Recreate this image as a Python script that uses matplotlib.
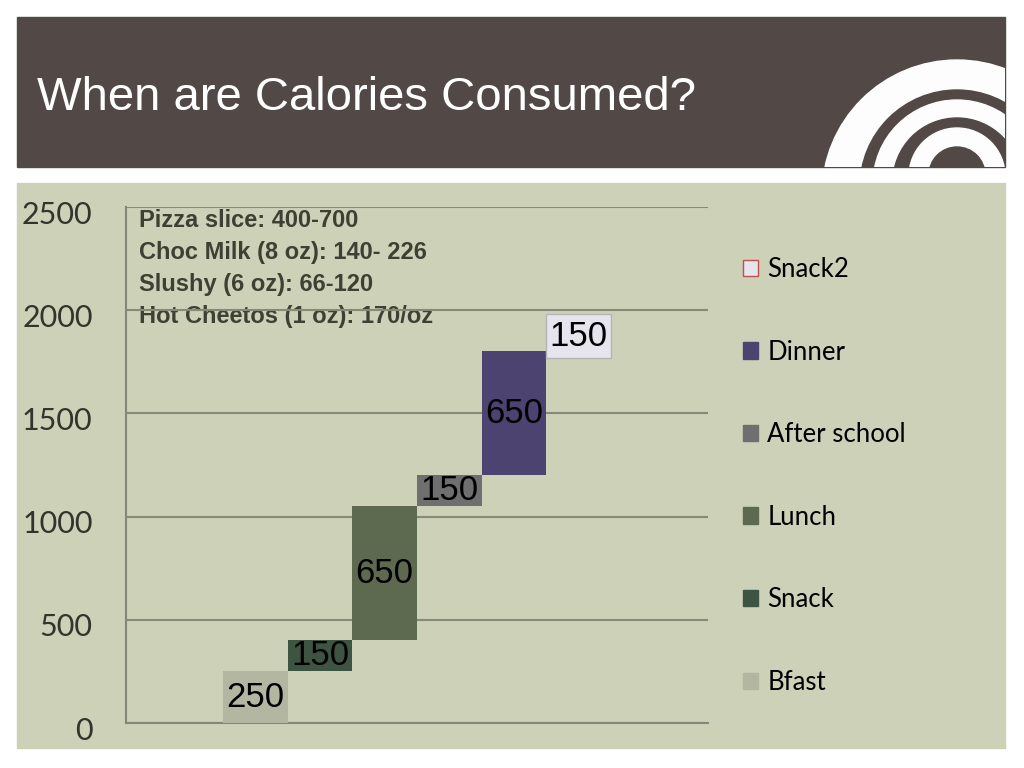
import matplotlib
matplotlib.use("Agg")
import matplotlib.pyplot as plt
import matplotlib.transforms as mtransforms
from matplotlib.patches import Rectangle, Circle, Patch

# chart data (calories per meal, drawn as a waterfall)
categories = ["Bfast", "Snack", "Lunch", "After school", "Dinner", "Snack2"]
bases = [0, 250, 400, 1050, 1200, 1770]
heights = [250, 150, 650, 150, 600, 210]
bar_labels = ["250", "150", "650", "150", "650", "150"]
colors = ["#b3b7a2", "#3e5443", "#5e6a50", "#6f6f6f", "#4c4371", "#e6e5ee"]
y_ticks = [0, 500, 1000, 1500, 2000, 2500]
notes = ["Pizza slice: 400-700",
         "Choc Milk (8 oz): 140- 226",
         "Slushy (6 oz): 66-120",
         "Hot Cheetos (1 oz): 170/oz"]
title = "When are Calories Consumed?"

fig = plt.figure(figsize=(10.24, 7.68), dpi=100)
fig.patch.set_facecolor("white")

# slide background in pixel coordinates
bg = fig.add_axes([0, 0, 1, 1], zorder=-1)
bg.set_xlim(0, 1024)
bg.set_ylim(768, 0)
bg.axis("off")
band = Rectangle((17, 17), 988, 150, color="#524846")
bg.add_patch(band)
bg.add_patch(Rectangle((17, 183), 988, 565, color="#cdd1b8"))
for cx, cy, r, c in [(957, 195, 135, "#fdfdfd"), (957, 187, 97, "#524846"),
                     (957, 184, 84, "#fdfdfd"), (957, 182, 64, "#524846"),
                     (957, 176, 48, "#fdfdfd"), (957, 175, 28, "#524846")]:
    circ = Circle((cx, cy), r, color=c)
    bg.add_patch(circ)
    circ.set_clip_path(band)

fig.text(37 / 1024, 1 - 110 / 768, title, color="white", fontsize=34,
         family="Liberation Sans", va="baseline")

ax = fig.add_axes([126 / 1024, 45 / 768, 582 / 1024, 516 / 768])
ax.set_facecolor("none")
x = list(range(2, 2 + len(categories)))
ax.bar(x, heights, bottom=bases, width=1.0, color=colors, zorder=3)
ax.bar(x[-1], heights[-1], bottom=bases[-1], width=1.0, color=colors[-1],
       edgecolor="#b5b5b5", linewidth=1, zorder=3)
for xi, b, h, lab in zip(x, bases, heights, bar_labels):
    ax.text(xi, b + h / 2, lab, ha="center", va="center", fontsize=25,
            family="Liberation Sans", color="black", zorder=4)

ax.set_xlim(0, 9)
ax.set_ylim(0, 2500)
ax.set_yticks(y_ticks)
ax.set_xticks([])
ax.set_axisbelow("line")
ax.yaxis.grid(True, color="#878a74", linewidth=1.5)
for s in ["top", "right"]:
    ax.spines[s].set_visible(False)
for s in ["left", "bottom"]:
    ax.spines[s].set_color("#85877a")
    ax.spines[s].set_linewidth(1.5)
ax.tick_params(axis="y", length=0, pad=24, labelsize=22, labelcolor="#33342b",
               labelfontfamily="Lato")
# tick labels sit a little below their gridlines
shift = mtransforms.ScaledTranslation(0, -0.05, fig.dpi_scale_trans)
for tick in ax.yaxis.get_major_ticks():
    tick.label1.set_transform(tick.label1.get_transform() + shift)

ax.text(0.022, 0.997, "\n".join(notes), transform=ax.transAxes, va="top",
        ha="left", fontsize=17, fontweight="bold", color="#3f4034",
        family="Liberation Sans", linespacing=1.5, zorder=1)

handles = [Patch(facecolor=c, edgecolor=("#c0504d" if i == len(colors) - 1 else c))
           for i, c in enumerate(colors)]
ax.legend(handles[::-1], categories[::-1], loc="upper left",
          bbox_to_anchor=(743 / 1024, 1 - 257 / 768), bbox_transform=fig.transFigure,
          frameon=False, prop={"family": "Lato", "size": 18.5}, handlelength=0.6,
          handleheight=0.6, handletextpad=0.35, labelspacing=2.24, borderpad=0,
          borderaxespad=0)

fig.savefig("out.png", dpi=100)
